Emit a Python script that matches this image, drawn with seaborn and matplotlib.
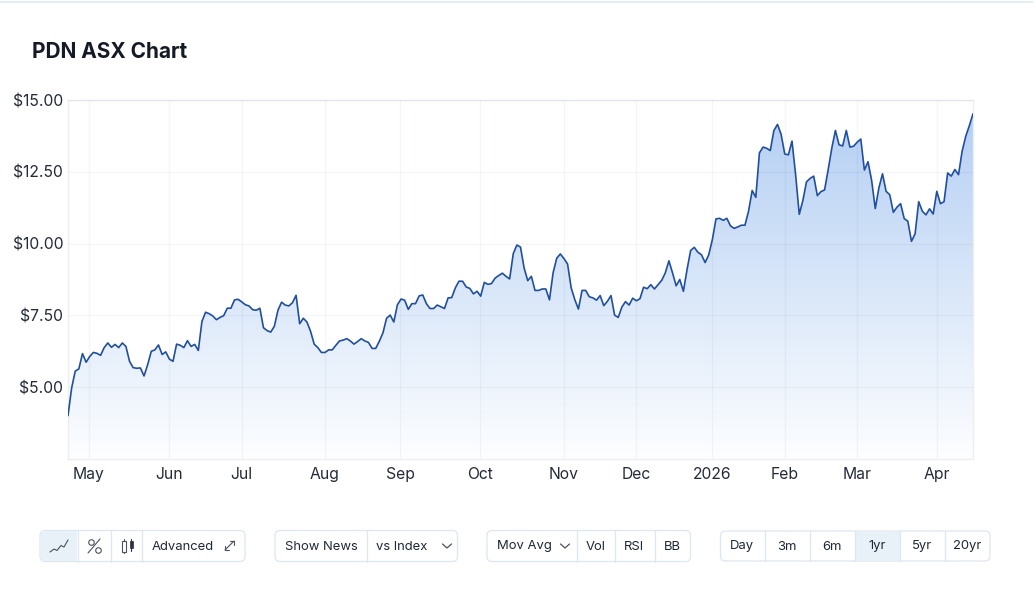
import matplotlib
matplotlib.use('Agg')
import matplotlib.pyplot as plt
import seaborn as sns
import numpy as np
import pandas as pd
from matplotlib.colors import LinearSegmentedColormap
from matplotlib.patches import FancyBboxPatch, Rectangle

prices = [
    4.01, 4.97, 5.56, 5.64, 6.17, 5.87, 6.07, 6.21, 6.18, 6.11, 6.38, 6.54, 6.39, 6.49, 6.38, 6.54,
    6.42, 5.90, 5.68, 5.66, 5.67, 5.39, 5.78, 6.25, 6.30, 6.47, 6.14, 6.23, 5.98, 5.90, 6.50, 6.46,
    6.38, 6.62, 6.42, 6.49, 6.28, 7.29, 7.61, 7.56, 7.48, 7.35, 7.43, 7.49, 7.75, 7.75, 8.04, 8.06,
    7.97, 7.87, 7.83, 7.70, 7.68, 7.75, 7.07, 6.97, 6.92, 7.12, 7.68, 7.96, 7.86, 7.83, 7.94, 8.20,
    7.21, 7.40, 7.27, 6.95, 6.50, 6.38, 6.21, 6.21, 6.30, 6.30, 6.46, 6.61,
    6.64, 6.69, 6.61, 6.50, 6.59, 6.69, 6.61, 6.56, 6.35, 6.35, 6.60, 6.89, 7.40, 7.51, 7.27, 7.87,
    8.07, 8.03, 7.71, 7.91, 7.91, 8.18, 8.21, 7.91, 7.74, 7.74, 7.86, 7.80, 7.74, 8.11, 8.12, 8.46,
    8.69, 8.69, 8.49, 8.44, 8.25, 8.34, 8.17, 8.65, 8.58, 8.61, 8.80, 8.89, 8.97, 8.86, 8.77, 9.65,
    9.95, 9.88, 9.15, 8.71, 8.86, 8.37, 8.37, 8.42, 8.42, 8.04, 8.98, 9.49, 9.64, 9.48, 9.29, 8.46,
    8.05, 7.72, 8.37, 8.37, 8.15, 8.11, 8.03, 8.19, 7.84, 7.99, 8.19, 7.51, 7.43, 7.79, 7.98, 7.86,
    8.10, 8.01, 8.08, 8.48, 8.43, 8.57, 8.42, 8.57, 8.72, 8.98, 9.40, 8.98, 8.53, 8.75,
    8.34, 9.09, 9.76, 9.87, 9.70, 9.61, 9.34, 9.61, 10.14, 10.86, 10.88, 10.81, 10.88, 10.62, 10.53, 10.58,
    10.64, 10.64, 11.13, 11.85, 11.61, 13.16, 13.36, 13.32, 13.24, 13.94, 14.15, 13.80, 13.12, 13.09, 13.57, 12.40,
    11.02, 11.50, 12.15, 12.27, 12.35, 11.67, 11.81, 11.87, 12.58, 13.33, 13.94, 13.44, 13.40, 13.94, 13.36, 13.39,
    13.53, 13.64, 12.56, 12.85, 12.20, 11.22, 11.94, 12.43, 11.82, 11.70, 11.09, 11.27, 11.39, 10.87, 10.78, 10.08,
    10.34, 11.46, 11.13, 11.00, 11.21, 11.03, 11.82, 11.39, 11.46, 12.46, 12.35, 12.58, 12.40, 13.22, 13.74, 14.11,
    14.52,
]
month_labels = ['May', 'Jun', 'Jul', 'Aug', 'Sep', 'Oct', 'Nov', 'Dec', '2026', 'Feb', 'Mar', 'Apr']
month_pos = [5.8, 27.8, 48.0, 71.0, 91.8, 113.8, 137.0, 157.0, 178.0, 198.0, 218.0, 240.0]
price_ticks = [5, 7.5, 10, 12.5, 15]
price_labels = ['$5.00', '$7.50', '$10.00', '$12.50', '$15.00']

W, H = 1033, 597
sns.set_theme(style='white')
plt.rcParams['font.family'] = ['Inter', 'DejaVu Sans']

df = pd.DataFrame({'day': np.arange(len(prices)), 'price': prices})

fig = plt.figure(figsize=(W / 100, H / 100), dpi=100, facecolor='white')
ax = fig.add_axes([68 / W, 1 - 459 / H, 905 / W, 359 / H])

# gradient under the line, clipped to the area
cmap = LinearSegmentedColormap.from_list('fade', ['#fdfeff', '#b4cff3'])
poly = ax.fill_between(df['day'], df['price'], 2.5, color='none', lw=0)
img = ax.imshow(np.linspace(1, 0, 256).reshape(-1, 1), cmap=cmap, aspect='auto',
                extent=(0, len(prices) - 1, 2.5, 14.6), zorder=1)
img.set_clip_path(poly.get_paths()[0], transform=ax.transData)

sns.lineplot(data=df, x='day', y='price', color='#214f9f', lw=1.2, ax=ax, zorder=3)

ax.set_xlim(0, len(prices) - 1)
ax.set_ylim(2.5, 15)
ax.set_xticks(month_pos, month_labels)
ax.set_yticks(price_ticks, price_labels)
ax.set_xlabel('')
ax.set_ylabel('')
ax.grid(True, color='#16305a', alpha=0.045, lw=1, zorder=2)
ax.set_axisbelow(False)
ax.tick_params(axis='both', length=0, labelsize=11.3, labelcolor='#232a38')
ax.tick_params(axis='x', pad=5.5)
ax.tick_params(axis='y', pad=3.5)
for s in ax.spines.values():
    s.set_color('#eceef2')
    s.set_linewidth(1)

# page furniture in pixel coordinates
ui = fig.add_axes([0, 0, 1, 1], facecolor='none', zorder=5)
ui.set_xlim(0, W)
ui.set_ylim(H, 0)
ui.axis('off')

ui.plot([0, W], [2, 2], color='#dfe9f2', lw=1.2)
ui.text(32, 52, 'PDN ASX Chart', fontsize=15, fontweight='bold', color='#151b26', va='center')

border = '#dde7f0'
active = '#e8f0f8'
txt = '#1f2837'
icon = '#4a525e'


def group(x0, x1, y0, y1, dividers, labels, on=None):
    ui.add_patch(FancyBboxPatch((x0, y0), x1 - x0, y1 - y0, boxstyle='round,pad=0,rounding_size=5',
                                fc='white', ec=border, lw=0.9))
    if on:
        ui.add_patch(Rectangle((on[0], y0 + 0.5), on[1] - on[0], y1 - y0 - 1, fc=active, ec='none'))
    for d in dividers:
        ui.plot([d, d], [y0, y1], color=border, lw=0.9)
    for lx, s in labels:
        ui.text(lx, (y0 + y1) / 2 + 0.5, s, fontsize=9.4, color=txt, ha='center', va='center')


def chevron(x, y):
    ui.plot([x - 4.5, x, x + 4.5], [y - 2, y + 2, y - 2], color=icon, lw=0.9)


group(40, 245, 530.5, 561.5, [77.5, 111, 142], [(183, 'Advanced')], on=(41, 77))
group(275, 457.5, 530.5, 561.5, [367], [(321, 'Show News'), (402, 'vs Index')])
group(487, 690.5, 530.5, 561.5, [576.5, 614.5, 654.5],
      [(524, 'Mov Avg'), (595.5, 'Vol'), (634, 'RSI'), (672, 'BB')])
group(720.5, 990, 531, 561, [764.5, 809.5, 854.5, 899.5, 944.5],
      [(742, 'Day'), (787, '3m'), (832, '6m'), (877, '1yr'), (922, '5yr'), (967, '20yr')], on=(855, 899.5))
chevron(447, 546)
chevron(565, 546)

# toolbar icons
ui.plot([50, 54, 57, 61, 64, 68], [552, 549, 550.5, 545.5, 547, 540], color=icon, lw=0.8)
ui.plot([88, 100], [553, 539], color=icon, lw=0.8)
ui.plot([91], [542], 'o', mfc='none', mec=icon, ms=4, mew=0.8)
ui.plot([97.5], [550], 'o', mfc='none', mec=icon, ms=4, mew=0.8)
ui.plot([123.5, 123.5], [539, 553], color=icon, lw=0.8)
ui.add_patch(Rectangle((121.5, 541), 4, 11, fc='white', ec=icon, lw=0.8, zorder=3))
ui.plot([131, 131], [539, 551], color='#2a3140', lw=0.8)
ui.add_patch(Rectangle((129.5, 541), 3.5, 7, fc='#2a3140', ec='#2a3140', lw=0.5))
ui.plot([225, 234], [550, 541], color=icon, lw=0.8)
ui.plot([230, 234, 234], [541, 541, 545], color=icon, lw=0.8)
ui.plot([225, 225, 229], [546, 550, 550], color=icon, lw=0.8)

fig.savefig('out.png', dpi=100)
